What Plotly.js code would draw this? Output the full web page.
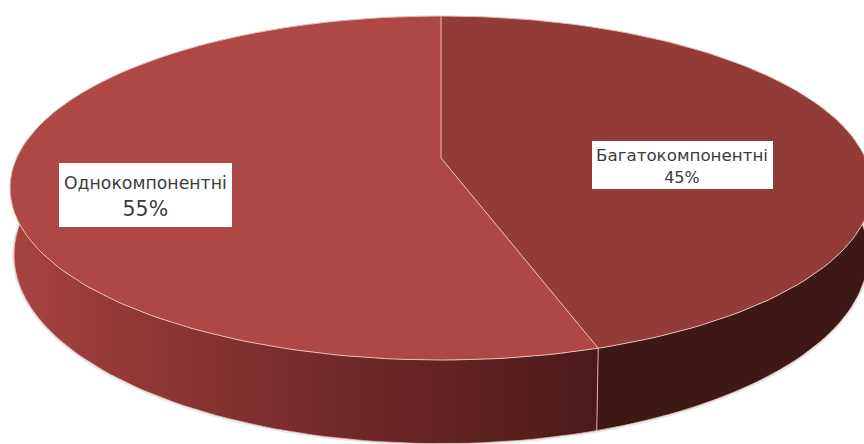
<!DOCTYPE html>
<html>
<head>
<meta charset="utf-8">
<script src="https://cdn.plot.ly/plotly-3.0.1.min.js"></script>
<style>html,body{margin:0;padding:0;background:#fff;overflow:hidden}#chart{width:864px;height:444px}</style>
</head>
<body>
<div id="chart"></div>
<script>
// Share of preparations by composition, in percent
const categories = ["Багатокомпонентні", "Однокомпонентні"];
const shares = [45, 55];

const topColors = ["#933b39", "#ad4846"];
const rimColor = "#e9bdb3";
const labelFont = "DejaVu Sans, sans-serif";

// Perspective model of the disc: the upper and lower faces are the unit circle
// seen through a projective tilt, on an axis measured in page pixels.
const tilt = 0.1744;
const upperFace = {cx: 441, cy: 158, rx: 424.4, ry: 166.8};
const lowerFace = {cx: 441, cy: 222, rx: 420.5, ry: 183};

function project(face, deg) {
  const t = deg * Math.PI / 180;
  const u = Math.sin(t), v = -Math.cos(t), d = 1 - tilt * v;
  return [face.cx + face.rx * u / d, face.cy + face.ry * v / d];
}
function arc(face, from, to) {
  const n = Math.max(2, Math.ceil(Math.abs(to - from) / 1.5));
  const pts = [];
  for (let i = 0; i <= n; i++) pts.push(project(face, from + (to - from) * i / n));
  return pts;
}
const xs = p => p.map(q => q[0]);
const ys = p => p.map(q => q[1]);

const total = shares.reduce((a, b) => a + b, 0);
const seam = shares[0] / total * 360;          // boundary between the two slices, clockwise from 12 o'clock
const hiddenRight = 60, hiddenLeft = 292;      // wall ends, tucked under the upper face

function polygon(pts, extra) {
  return Object.assign({type: "scatter", mode: "lines", x: xs(pts), y: ys(pts), fill: "toself",
    line: {width: 0}, hoverinfo: "skip", showlegend: false}, extra);
}
function stroke(pts, color, width) {
  return {type: "scatter", mode: "lines", x: xs(pts), y: ys(pts),
    line: {color: color, width: width}, hoverinfo: "skip", showlegend: false};
}

const lowerArc = arc(lowerFace, hiddenRight, hiddenLeft);
const traces = [
  // soft contact shadow just outside the lower rim
  stroke(lowerArc, "rgba(110,125,125,0.18)", 4),
  // side walls
  polygon(arc(upperFace, hiddenRight, seam).concat(arc(lowerFace, seam, hiddenRight)),
    {fillcolor: "#3d1815"}),
  polygon(arc(upperFace, seam, hiddenLeft).concat(arc(lowerFace, hiddenLeft, seam)),
    {fillgradient: {type: "horizontal", colorscale: [
      [0, "#a84442"], [0.15, "#973b39"], [0.5, "#772b2b"], [0.75, "#632222"], [1, "#4b1a19"]]}}),
  stroke(lowerArc, "#e6c2b8", 0.7),
  // upper face, one wedge per category
  polygon([[upperFace.cx, upperFace.cy]].concat(arc(upperFace, 0, seam)), {fillcolor: topColors[0]}),
  polygon([[upperFace.cx, upperFace.cy]].concat(arc(upperFace, seam, 360)), {fillcolor: topColors[1]}),
  // rim and slice boundaries
  stroke(arc(upperFace, 0, 360), rimColor, 1),
  stroke([project(upperFace, 0), [upperFace.cx, upperFace.cy], project(upperFace, seam)], rimColor, 1),
  stroke([project(upperFace, seam), project(lowerFace, seam)], "#d9b0a6", 1)
];

// White label boxes, with the text laid over them as annotations
function labelBox(x0, y0, x1, y1) {
  return {type: "rect", layer: "above", xref: "x", yref: "y", x0: x0, y0: y0, x1: x1, y1: y1,
    fillcolor: "#ffffff", line: {width: 0}};
}
// The base font size sets the line spacing inside the label
function labelText(i, x, y, baseSize, nameSize, valueSize) {
  return {
    x: x, y: y, xref: "x", yref: "y", xanchor: "center", yanchor: "middle",
    showarrow: false, align: "center",
    font: {family: labelFont, size: baseSize, color: "#3c3c3c"},
    text: '<span style="font-size:' + nameSize + 'px">' + categories[i] + '</span><br>' +
          '<span style="font-size:' + valueSize + 'px">' + shares[i] + "%</span>"
  };
}

const hiddenAxis = {visible: false, fixedrange: true, showgrid: false, zeroline: false};
const layout = {
  width: 864, height: 444,
  margin: {l: 0, r: 0, t: 0, b: 0},
  paper_bgcolor: "#ffffff", plot_bgcolor: "#ffffff",
  showlegend: false,
  xaxis: Object.assign({range: [0, 864]}, hiddenAxis),
  yaxis: Object.assign({range: [444, 0]}, hiddenAxis),
  shapes: [labelBox(592, 141, 773, 189), labelBox(59, 163, 232, 227)],
  annotations: [
    labelText(0, 682, 166, 17, 16.7, 16),
    labelText(1, 145.5, 197, 20.5, 17.3, 20.5)
  ]
};
Plotly.newPlot("chart", traces, layout, {displayModeBar: false, staticPlot: true});
</script>
</body>
</html>
